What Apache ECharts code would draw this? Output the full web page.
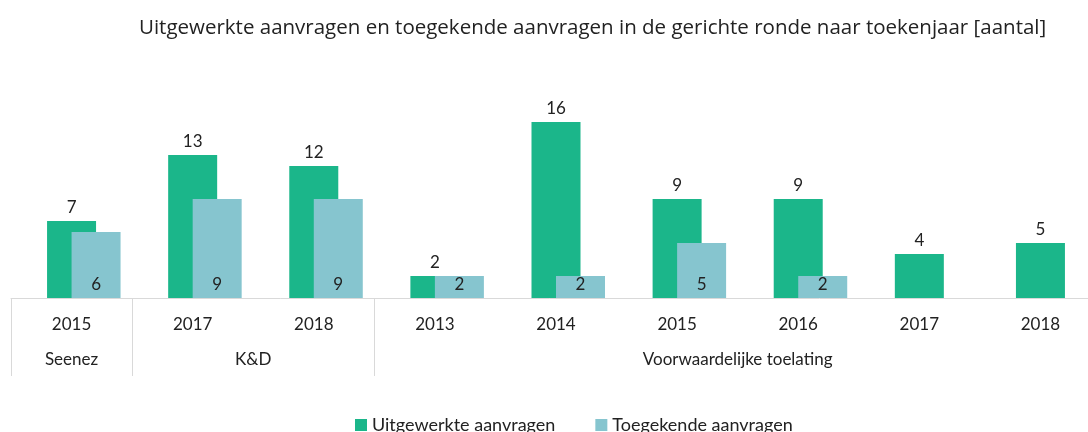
<!DOCTYPE html>
<html>
<head>
<meta charset="utf-8">
<script src="https://cdn.jsdelivr.net/npm/echarts@6/dist/echarts.min.js"></script>
<style>
  html, body { margin: 0; padding: 0; background: #fff; }
  #chart { width: 1088px; height: 432px; }
</style>
</head>
<body>
<div id="chart"></div>
<script>
// jaren per categorie (as 1) en groepen (as 2)
var years = ['2015', '2017', '2018', '2013', '2014', '2015', '2016', '2017', '2018'];
var groups = ['Seenez', 'K&D', 'Voorwaardelijke toelating'];
var groupSpans = [1, 2, 6];
var uitgewerkt = [7, 13, 12, 2, 16, 9, 9, 4, 5];
var toegekend = [6, 9, 9, 2, 2, 5, 2, null, null];

// grenzen en middens van de groepen
var groupBounds = [0];
var groupCenters = [];
groupSpans.forEach(function (n, i) {
    groupCenters.push(groupBounds[i] + n / 2);
    groupBounds.push(groupBounds[i] + n);
});

var green = '#1bb68a';
var blue = '#86c5cf';
var font = 'Lato';
var grey = '#d9d9d9';

var myChart = echarts.init(document.getElementById('chart'));
var option = {
    animation: false,
    textStyle: { fontFamily: font },
    title: {
        text: 'Uitgewerkte aanvragen en toegekende aanvragen in de gerichte ronde naar toekenjaar [aantal]',
        left: 139,
        top: 18,
        padding: 0,
        textStyle: { fontFamily: 'Open Sans', fontSize: 20.5, fontWeight: 'normal', color: '#222' }
    },
    legend: {
        data: ['Uitgewerkte aanvragen', 'Toegekende aanvragen'],
        left: 355,
        top: 416,
        padding: 0,
        itemWidth: 12,
        itemHeight: 12,
        itemGap: 40,
        icon: 'rect',
        textStyle: { fontFamily: font, fontSize: 18, color: '#222' }
    },
    grid: { left: 11, width: 1090, top: 78, bottom: 134, outerBoundsMode: 'none', containLabel: false },
    xAxis: [
        {
            type: 'category',
            data: years,
            axisLine: { lineStyle: { color: grey, width: 1 } },
            axisTick: { show: false },
            axisLabel: { color: '#222', fontSize: 17, margin: 18, interval: 0 }
        },
        {
            type: 'value',
            min: 0,
            max: 9,
            position: 'bottom',
            splitLine: { show: false },
            axisLine: { show: false },
            axisTick: {
                show: true,
                customValues: groupBounds,
                length: 78,
                lineStyle: { color: grey, width: 1 }
            },
            axisLabel: {
                customValues: groupCenters,
                color: '#222',
                fontSize: 17,
                margin: 53,
                formatter: function (v) {
                    var i = groupCenters.indexOf(v);
                    return i >= 0 ? groups[i] : '';
                }
            }
        }
    ],
    yAxis: { type: 'value', min: 0, max: 20, show: false, splitLine: { show: false } },
    series: [
        {
            name: 'leeg',
            type: 'bar',
            data: years.map(function () { return null; }),
            barWidth: 49,
            barGap: '-50%',
            silent: true
        },
        {
            name: 'Uitgewerkte aanvragen',
            type: 'bar',
            data: uitgewerkt,
            barWidth: 49,
            barGap: '-50%',
            itemStyle: { color: green },
            label: { show: true, position: 'top', distance: 5, color: '#222', fontSize: 17 }
        },
        {
            name: 'Toegekende aanvragen',
            type: 'bar',
            data: toegekend,
            barWidth: 49,
            barGap: '-50%',
            itemStyle: { color: blue },
            label: { show: true, position: 'insideBottom', distance: 5, color: '#222', fontSize: 17 }
        }
    ]
};
myChart.setOption(option);
</script>
</body>
</html>
